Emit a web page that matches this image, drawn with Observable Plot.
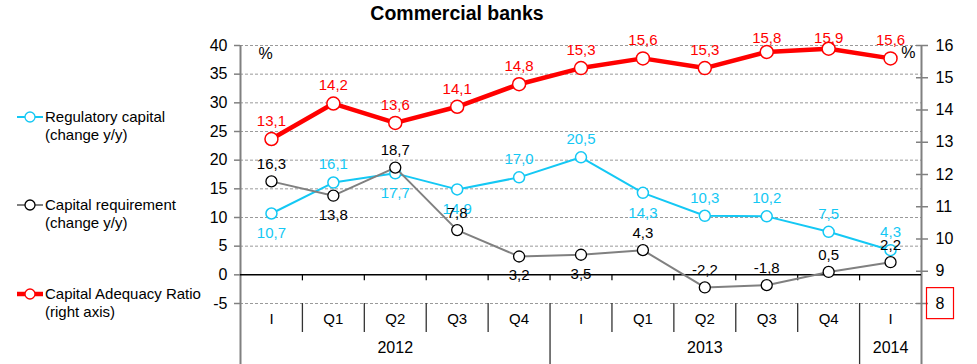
<!DOCTYPE html>
<html>
<head>
<meta charset="utf-8">
<script src="https://cdn.jsdelivr.net/npm/d3@7"></script>
<script src="https://cdn.jsdelivr.net/npm/@observablehq/plot@0.6"></script>
<style>
  body { margin: 0; background: #fff; font-family: "Liberation Sans", Arial, sans-serif; }
  #wrap { position: relative; width: 977px; height: 364px; overflow: hidden; }
  #title { position: absolute; left: 0; top: 1px; width: 914px; text-align: center; font-weight: bold; font-size: 19.5px; line-height: 24px; color: #000; }
  #chart { position: absolute; left: 0; top: 0; }
  .leg { position: absolute; left: 0; font-size: 15px; line-height: 18px; color: #000; }
  .leg svg { position: absolute; left: 0; top: 0; }
  .leg div { position: absolute; left: 45px; top: 0; white-space: nowrap; }
</style>
</head>
<body>
<div id="wrap">
  <div id="chart"></div>
  <div id="title">Commercial banks</div>
  <div id="legend"></div>
</div>
<script>
// ---- data ----
const periods = ["I", "Q1", "Q2", "Q3", "Q4", "I", "Q1", "Q2", "Q3", "Q4", "I"];
const years = ["2012", "2013", "2014"];
const yearSpans = [5, 5, 1];
const regulatoryCapital = [10.7, 16.1, 17.7, 14.9, 17.0, 20.5, 14.3, 10.3, 10.2, 7.5, 4.3];
const capitalRequirement = [16.3, 13.8, 18.7, 7.8, 3.2, 3.5, 4.3, -2.2, -1.8, 0.5, 2.2];
const capitalAdequacyRatio = [13.1, 14.2, 13.6, 14.1, 14.8, 15.3, 15.6, 15.3, 15.8, 15.9, 15.6];
const leftTicks = [-5, 0, 5, 10, 15, 20, 25, 30, 35, 40];
const rightTicks = [8, 9, 10, 11, 12, 13, 14, 15, 16];
const seriesNames = ["Regulatory capital\n(change y/y)", "Capital requirement\n(change y/y)", "Capital Adequacy Ratio\n(right axis)"];
const regLabelSide = ["below", "above", "below", "below", "above", "above", "below", "above", "above", "above", "above"];
const reqLabelSide = ["above", "below", "above", "above", "below", "below", "above", "above", "above", "above", "above"];

// ---- styles ----
const CYAN = "#14c8f4", GRAY = "#808080", RED = "#ff0000";
const W = 977, H = 364, mL = 240, mR = 56, mT = 45, mB = 61;

const n = periods.length;
const right2left = d3.scaleLinear().domain([rightTicks[0], rightTicks[rightTicks.length - 1]]).range([leftTicks[0], leftTicks[leftTicks.length - 1]]);
const yPx = d3.scaleLinear().domain([leftTicks[0], leftTicks[leftTicks.length - 1]]).range([H - mB, mT]);
const fmt = v => v.toFixed(1).replace(".", ",");

const data = d3.range(n).map(i => ({
  x: i + 0.5,
  period: periods[i],
  reg: regulatoryCapital[i],
  req: capitalRequirement[i],
  car: right2left(capitalAdequacyRatio[i]),
  carRaw: capitalAdequacyRatio[i],
  regSide: regLabelSide[i],
  reqSide: reqLabelSide[i]
}));
// label y helper (keeps labels inside chart area as in the reference)
const labelY = (v, off) => yPx.invert(Math.max(yPx(v) + off, 38));

const bounds = d3.range(1, n);
const yearEnds = Array.from(d3.cumsum(yearSpans));
const yearData = years.map((y, k) => ({ year: y, x: yearEnds[k] - yearSpans[k] / 2 }));
const yearBounds = yearEnds.slice(0, -1);

const yBottom = yPx.invert(H);
const yCatBottom = yPx.invert(H - mB + 29);
const yTickDown = yPx.invert(yPx(0) + 6);

const plot = Plot.plot({
  width: W, height: H,
  marginLeft: mL, marginRight: mR, marginTop: mT, marginBottom: mB,
  x: { domain: [0, n], axis: null },
  y: { domain: [leftTicks[0], leftTicks[leftTicks.length - 1]], axis: null },
  style: { fontFamily: "Liberation Sans, Arial, sans-serif", fontSize: "16px", background: "transparent", overflow: "visible", color: "#000" },
  marks: [
    Plot.gridY(leftTicks.filter(d => d !== 0), { stroke: "#9a9a9a", strokeOpacity: 1, strokeDasharray: "3,2", strokeWidth: 1 }),
    // left axis
    Plot.axisY({ anchor: "left", ticks: leftTicks, tickSize: 6, tickPadding: 7, fontSize: 16, tickFormat: d => String(d), stroke: GRAY, strokeWidth: 1.5 }),
    // right axis (labels + outer ticks)
    Plot.axisY({ anchor: "right", ticks: rightTicks.map(right2left), tickSize: 6, tickPadding: 8, fontSize: 16,
      tickFormat: d => String(Math.round(right2left.invert(d))), stroke: GRAY, strokeWidth: 1.5 }),
    // right axis inner ticks
    Plot.axisY({ anchor: "right", ticks: rightTicks.map(right2left), tickSize: -6, tickFormat: () => "", stroke: GRAY, strokeWidth: 1.5 }),
    // axis lines
    Plot.ruleX([0, n], { y1: leftTicks[leftTicks.length - 1], y2: yBottom, stroke: GRAY, strokeWidth: 2 }),
    // zero line and its ticks
    Plot.ruleY([0], { stroke: "#000", strokeWidth: 1.5 }),
    Plot.ruleX(bounds, { y1: 0, y2: yTickDown, stroke: "#000", strokeWidth: 1.2 }),
    // category dividers
    Plot.ruleX(bounds, { y1: leftTicks[0], y2: yCatBottom, stroke: "#333", strokeWidth: 1.3 }),
    Plot.ruleX(yearBounds, { y1: yCatBottom, y2: yBottom, stroke: "#333", strokeWidth: 1.3 }),
    // category + year labels
    Plot.text(data, { x: "x", text: "period", frameAnchor: "bottom", dy: 20, fontSize: 15, fill: "#000" }),
    Plot.text(yearData, { x: "x", text: "year", frameAnchor: "bottom", dy: 49, fontSize: 16, fill: "#000" }),
    // percent signs
    Plot.text(["%"], { frameAnchor: "top-left", dx: 18, dy: 2, fontSize: 16, fill: "#000" }),
    Plot.text(["%"], { frameAnchor: "top-right", dx: -6, dy: 1, fontSize: 16, fill: "#000" }),
    // series
    Plot.line(data, { x: "x", y: "reg", stroke: CYAN, strokeWidth: 2 }),
    Plot.dot(data, { x: "x", y: "reg", r: 5.5, stroke: CYAN, fill: "#fff", strokeWidth: 1.5 }),
    Plot.line(data, { x: "x", y: "req", stroke: GRAY, strokeWidth: 2 }),
    Plot.dot(data, { x: "x", y: "req", r: 5.5, stroke: "#000", fill: "#fff", strokeWidth: 1.3 }),
    Plot.line(data, { x: "x", y: "car", stroke: RED, strokeWidth: 4.5 }),
    Plot.dot(data, { x: "x", y: "car", r: 6.5, stroke: RED, fill: "#fff", strokeWidth: 1.5 }),
    // labels
    Plot.text(data, { x: "x", y: d => labelY(d.reg, d.regSide === "above" ? -18 : 20), text: d => fmt(d.reg), fill: CYAN, fontSize: 15 }),
    Plot.text(data, { x: "x", y: d => labelY(d.req, d.reqSide === "above" ? -17 : 19), text: d => fmt(d.req), fill: "#000", fontSize: 15 }),
    Plot.text(data, { x: "x", y: d => labelY(d.car, -18), text: d => fmt(d.carRaw), fill: RED, fontSize: 15 })
  ]
});
document.getElementById("chart").appendChild(plot);

// red box around the "8" on the right axis
const svg = d3.select(plot.tagName === "svg" ? plot : plot.querySelector("svg"));
svg.selectAll("text").each(function () {
  if (this.textContent === String(rightTicks[0])) {
    const bb = this.getBBox();
    const ctm = this.getCTM();
    const x0 = bb.x + (ctm ? ctm.e : 0), y0 = bb.y + (ctm ? ctm.f : 0);
    svg.append("rect").attr("x", x0 - 9).attr("y", y0 - 7).attr("width", bb.width + 18).attr("height", bb.height + 14)
      .attr("fill", "none").attr("stroke", RED).attr("stroke-width", 1.2);
  }
});

// legend
const legendItems = [
  { name: seriesNames[0], color: CYAN, lw: 2, dot: CYAN, top: 108 },
  { name: seriesNames[1], color: GRAY, lw: 2, dot: "#000", top: 196 },
  { name: seriesNames[2], color: RED, lw: 4.5, dot: RED, top: 285 }
];
const leg = document.getElementById("legend");
legendItems.forEach(it => {
  const div = document.createElement("div");
  div.className = "leg";
  div.style.top = it.top + "px";
  div.innerHTML = `<svg width="44" height="18"><line x1="17" x2="43" y1="9" y2="9" stroke="${it.color}" stroke-width="${it.lw}"/><circle cx="30" cy="9" r="5" fill="#fff" stroke="${it.dot}" stroke-width="1.3"/></svg><div>${it.name.replace("\n", "<br>")}</div>`;
  leg.appendChild(div);
});
</script>
</body>
</html>
